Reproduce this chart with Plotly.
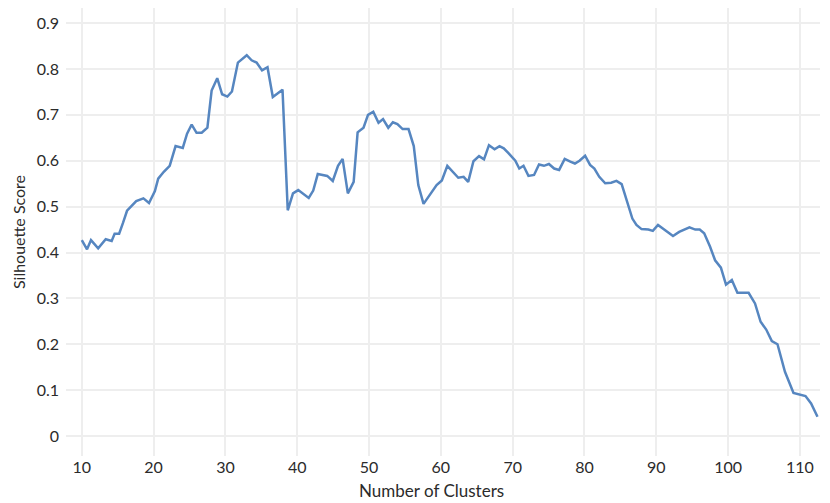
import plotly.graph_objects as go

# number of clusters / silhouette score
n_clusters = [
    10.0, 10.73, 11.28, 12.28, 13.33, 14.16, 14.57, 15.2, 15.75, 16.3,
    17.58, 18.58, 19.36, 20.18, 20.64, 21.42, 22.24, 23.06, 24.06, 24.66,
    25.3, 25.98, 26.7, 27.49, 28.08, 28.86, 29.54, 30.27, 30.91, 31.74,
    32.97, 33.65, 34.34, 35.1, 35.86, 36.6, 37.95, 38.68, 39.41, 40.14,
    41.6, 42.23, 42.86, 44.18, 44.95, 45.68, 46.32, 47.05, 47.86, 48.41,
    49.23, 49.86, 50.59, 51.32, 51.95, 52.68, 53.32, 53.95, 54.68, 55.5,
    56.23, 56.86, 57.59, 58.5, 59.41, 60.14, 60.9, 62.43, 63.17, 63.81,
    64.54, 65.32, 66.01, 66.7, 67.48, 68.17, 68.76, 69.45, 70.37, 70.92,
    71.51, 72.2, 72.98, 73.67, 74.36, 75.05, 75.78, 76.47, 77.25, 78.03,
    78.67, 79.31, 80.09, 80.78, 81.38, 82.06, 82.89, 83.72, 84.45, 85.18,
    85.9, 86.67, 87.24, 87.95, 88.9, 89.52, 90.24, 91.29, 92.33, 93.19,
    93.9, 94.62, 95.43, 96.05, 96.67, 97.48, 98.19, 99.0, 99.71, 100.52,
    101.3, 102.86, 103.75, 104.53, 105.31, 106.09, 106.88, 107.92, 109.11, 110.78,
    111.56, 112.45,
]
silhouette = [
    0.427, 0.407, 0.427, 0.409, 0.429, 0.425, 0.441, 0.441, 0.465, 0.491,
    0.512, 0.518, 0.508, 0.534, 0.561, 0.576, 0.589, 0.632, 0.628, 0.659,
    0.679, 0.661, 0.661, 0.672, 0.753, 0.780, 0.745, 0.740, 0.751, 0.814,
    0.830, 0.819, 0.814, 0.797, 0.804, 0.739, 0.755, 0.492, 0.529, 0.536,
    0.519, 0.535, 0.571, 0.567, 0.556, 0.589, 0.604, 0.529, 0.554, 0.662,
    0.672, 0.700, 0.707, 0.683, 0.691, 0.672, 0.684, 0.680, 0.669, 0.669,
    0.632, 0.547, 0.506, 0.527, 0.547, 0.557, 0.589, 0.563, 0.565, 0.554,
    0.599, 0.610, 0.603, 0.634, 0.625, 0.632, 0.627, 0.616, 0.600, 0.583,
    0.589, 0.567, 0.569, 0.592, 0.589, 0.593, 0.583, 0.580, 0.604, 0.598,
    0.594, 0.600, 0.611, 0.591, 0.583, 0.565, 0.551, 0.552, 0.556, 0.549,
    0.515, 0.474, 0.460, 0.451, 0.450, 0.447, 0.460, 0.447, 0.436, 0.445,
    0.450, 0.455, 0.450, 0.450, 0.442, 0.413, 0.383, 0.367, 0.330, 0.340,
    0.312, 0.312, 0.289, 0.249, 0.232, 0.207, 0.200, 0.140, 0.094, 0.087,
    0.071, 0.042,
]
x_title = 'Number of Clusters'
y_title = 'Silhouette Score'

fig = go.Figure(
    go.Scatter(
        x=n_clusters,
        y=silhouette,
        mode='lines',
        line=dict(color='#5686c0', width=2.5),
        showlegend=False,
    )
)

fig.update_xaxes(
    range=[7.8, 112.8],
    tick0=10,
    dtick=10,
    showgrid=True,
    gridcolor='#eeeeee',
    gridwidth=1.5,
    showline=False,
    zeroline=False,
    ticks='',
    tickfont=dict(size=16),
)

fig.update_yaxes(
    title_text=y_title,
    title_font=dict(size=16),
    title_standoff=7,
    range=[-0.0436, 0.933],
    tick0=0,
    dtick=0.1,
    showgrid=True,
    gridcolor='#eeeeee',
    gridwidth=1.5,
    showline=False,
    zeroline=False,
    ticks='',
    ticklabelstandoff=6,
    tickfont=dict(size=16),
)

# x title sits a little left of the plot centre in the original
fig.add_annotation(
    text=x_title,
    xref='paper', yref='paper',
    x=0.485, y=-0.05,
    xanchor='center', yanchor='top',
    showarrow=False,
    font=dict(size=17),
)

fig.update_layout(
    width=830,
    height=503,
    margin=dict(l=58, r=18, t=0, b=55),
    plot_bgcolor='white',
    paper_bgcolor='white',
    font=dict(family='Lato', color='#2b2b2b'),
)

fig.write_html('out.html')
